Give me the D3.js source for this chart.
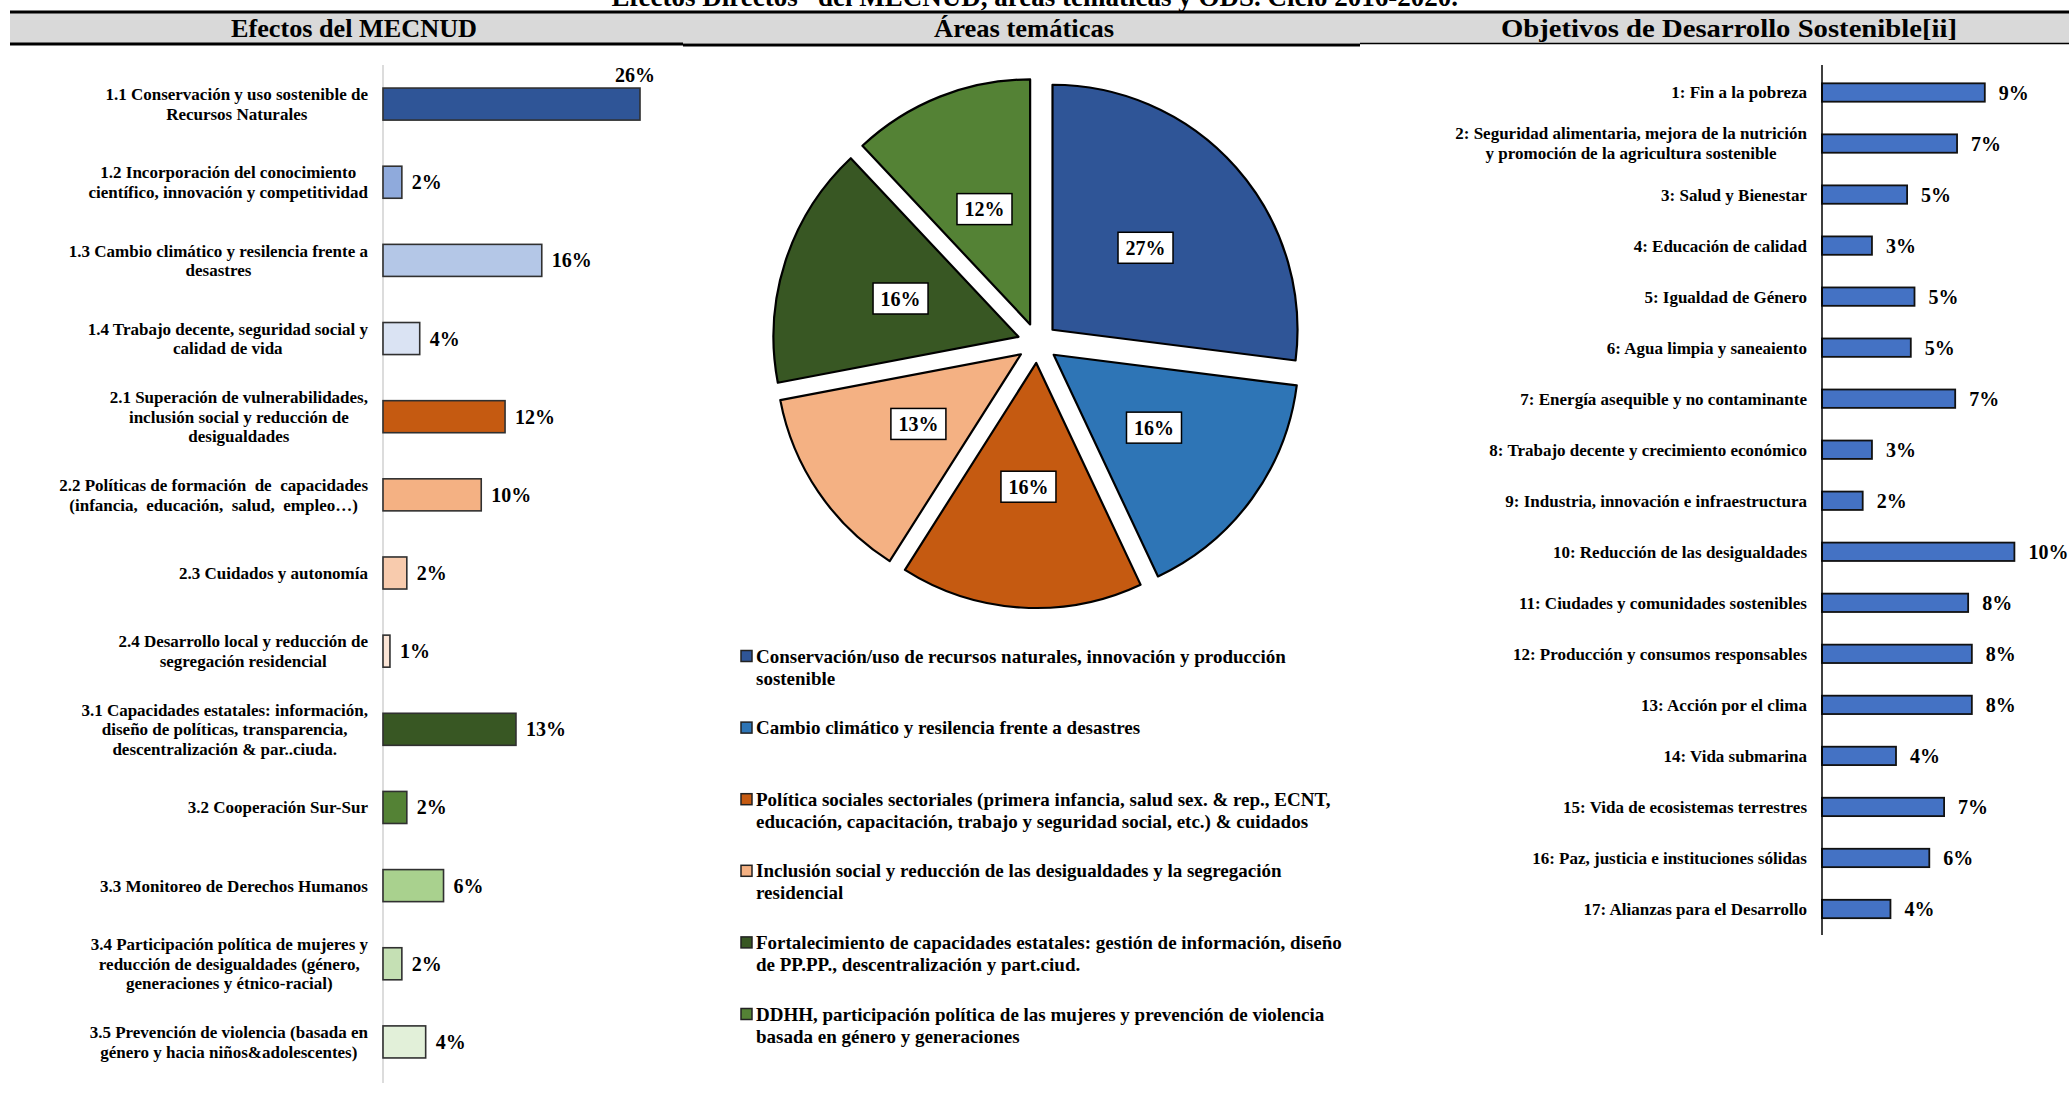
<!DOCTYPE html>
<html><head><meta charset="utf-8">
<script src="https://cdn.jsdelivr.net/npm/d3@7"></script>
<style>
body{margin:0;background:#fff;}
svg{display:block;}
text{font-family:"Liberation Serif","Times New Roman",serif;font-weight:bold;fill:#000;}
</style></head><body>
<svg id="c" width="2069" height="1107"></svg>
<script>
// ---------- DATA ----------
const title = "“Efectos Directos” del MECNUD, áreas temáticas y ODS. Ciclo 2016-2020.";
const headers = ["Efectos del MECNUD", "Áreas temáticas", "Objetivos de Desarrollo Sostenible[ii]"];

const efectosLabels = [
  ["1.1 Conservación y uso sostenible de", "Recursos Naturales"],
  ["1.2 Incorporación del conocimiento", "científico, innovación y competitividad"],
  ["1.3 Cambio climático y resilencia frente a", "desastres"],
  ["1.4 Trabajo decente, seguridad social y", "calidad de vida"],
  ["2.1 Superación de vulnerabilidades,", "inclusión social y reducción de", "desigualdades"],
  ["2.2 Políticas de formación  de  capacidades", "(infancia,  educación,  salud,  empleo…)"],
  ["2.3 Cuidados y autonomía"],
  ["2.4 Desarrollo local y reducción de", "segregación residencial"],
  ["3.1 Capacidades estatales: información,", "diseño de políticas, transparencia,", "descentralización & par..ciuda."],
  ["3.2 Cooperación Sur-Sur"],
  ["3.3 Monitoreo de Derechos Humanos"],
  ["3.4 Participación política de mujeres y", "reducción de desigualdades (género,", "generaciones y étnico-racial)"],
  ["3.5 Prevención de violencia (basada en", "género y hacia niños&adolescentes)"]
];
const efectosValues = [25.9, 1.9, 16.0, 3.7, 12.3, 9.9, 2.4, 0.7, 13.4, 2.4, 6.1, 1.9, 4.3];

const areasLabels = [
  ["Conservación/uso de recursos naturales, innovación y producción", "sostenible"],
  ["Cambio climático y resilencia frente a desastres"],
  ["Política sociales sectoriales (primera infancia, salud sex. & rep., ECNT,", "educación, capacitación, trabajo y seguridad social, etc.) & cuidados"],
  ["Inclusión social y reducción de las desigualdades y la segregación", "residencial"],
  ["Fortalecimiento de capacidades estatales: gestión de información, diseño", "de PP.PP., descentralización y part.ciud."],
  ["DDHH, participación política de las mujeres y prevención de violencia", "basada en género y generaciones"]
];
const areasValues = [27, 16, 16, 13, 16, 12];

const odsLabels = [
  ["1: Fin a la pobreza"],
  ["2: Seguridad alimentaria, mejora de la nutrición", "y promoción de la agricultura sostenible"],
  ["3: Salud y Bienestar"],
  ["4: Educación de calidad"],
  ["5: Igualdad de Género"],
  ["6: Agua limpia y saneaiento"],
  ["7: Energía asequible y no contaminante"],
  ["8: Trabajo decente y crecimiento económico"],
  ["9: Industria, innovación e infraestructura"],
  ["10: Reducción de las desigualdades"],
  ["11: Ciudades y comunidades sostenibles"],
  ["12: Producción y consumos responsables"],
  ["13: Acción por el clima"],
  ["14: Vida submarina"],
  ["15: Vida de ecosistemas terrestres"],
  ["16: Paz, justicia e instituciones sólidas"],
  ["17: Alianzas para el Desarrollo"]
];
const odsValues = [8.8, 7.3, 4.6, 2.7, 5.0, 4.8, 7.2, 2.7, 2.2, 10.4, 7.9, 8.1, 8.1, 4.0, 6.6, 5.8, 3.7];

// ---------- STYLES ----------
const efectosColors = ["#2f5597","#8faadc","#b4c7e7","#dae3f3","#c55a11","#f4b183","#f8cbad","#fbe5d6","#385723","#548235","#a9d18e","#c5e0b4","#e2f0d9"];
const areasColors = ["#2f5597","#2e75b6","#c55a11","#f4b183","#385723","#548235"];
const odsColor = "#4472c4";
const pct = v => Math.round(v) + "%";

const svg = d3.select("#c");

// ---------- HEADER ----------
svg.append("rect").attr("x",10).attr("y",13).attr("width",2059).attr("height",30).attr("fill","#d9d9d9");
svg.append("line").attr("x1",10).attr("x2",2069).attr("y1",12).attr("y2",12).attr("stroke","#000").attr("stroke-width",3);
svg.append("line").attr("x1",10).attr("x2",683).attr("y1",44).attr("y2",44).attr("stroke","#000").attr("stroke-width",3);
svg.append("line").attr("x1",683).attr("x2",1360).attr("y1",45).attr("y2",45).attr("stroke","#000").attr("stroke-width",3);
svg.append("line").attr("x1",1360).attr("x2",2069).attr("y1",43.5).attr("y2",43.5).attr("stroke","#000").attr("stroke-width",1.5);
svg.append("text").attr("x",1028).attr("y",6).attr("text-anchor","middle").attr("font-size",27).text(title);
const headerX = [354, 1024, 1729];
const headerW = [246, 180, 456];
svg.selectAll("text.hdr").data(headers).join("text").attr("class","hdr")
  .attr("x",(d,i)=>headerX[i]).attr("y",37).attr("text-anchor","middle").attr("font-size",26)
  .attr("textLength",(d,i)=>headerW[i]).attr("lengthAdjust","spacingAndGlyphs").text(d=>d);

// ---------- LEFT: EFECTOS ----------
const yE = d3.scaleBand().domain(d3.range(efectosValues.length)).range([65,1081]).paddingInner(0.59).paddingOuter(0.295);
const xE = d3.scaleLinear().domain([0,26]).range([383,641]);
svg.append("line").attr("x1",383).attr("x2",383).attr("y1",65).attr("y2",1083).attr("stroke","#d0d0d0").attr("stroke-width",1.5);
svg.selectAll("rect.ef").data(efectosValues).join("rect").attr("class","ef")
  .attr("x",xE(0)).attr("y",(d,i)=>yE(i)).attr("width",d=>xE(d)-xE(0)).attr("height",yE.bandwidth())
  .attr("fill",(d,i)=>efectosColors[i]).attr("stroke","#303030").attr("stroke-width",1.6);
efectosValues.forEach((v,i)=>{
  const cy = yE(i)+yE.bandwidth()/2;
  const t = svg.append("text").attr("font-size",20).text(pct(v));
  const w = t.node().getComputedTextLength();
  if (xE(v)+10+w > 665) {
    t.attr("x",xE(v)+15).attr("y",yE(i)-6).attr("text-anchor","end");
  } else {
    t.attr("x",xE(v)+10).attr("y",cy).attr("dy","0.35em");
  }
});
efectosLabels.forEach((lines,i)=>{
  const cy = yE(i)+yE.bandwidth()/2;
  const t = svg.append("text").attr("font-size",17).attr("text-anchor","middle");
  const sp = lines.map((ln,j)=>t.append("tspan").attr("y",cy+(j-(lines.length-1)/2)*19.5).attr("dy","0.35em").style("white-space","pre").text(ln));
  let mw = 0; sp.forEach(s=>{mw=Math.max(mw,s.node().getComputedTextLength());});
  sp.forEach(s=>s.attr("x",368-mw/2));
});

// ---------- MIDDLE: PIE ----------
const cx = 1037.5, cy = 343, R = 245, explode = 20;
const pie = d3.pie().sort(null).value(d=>d)(areasValues);
const arc = d3.arc().innerRadius(0).outerRadius(R);
const gp = svg.append("g").attr("transform",`translate(${cx},${cy})`);
pie.forEach((p,i)=>{
  const m = (p.startAngle+p.endAngle)/2;
  const dx = Math.sin(m)*explode, dy = -Math.cos(m)*explode;
  gp.append("path").attr("d",arc(p)).attr("transform",`translate(${dx},${dy})`)
    .attr("fill",areasColors[i]).attr("stroke","#000").attr("stroke-width",2.2).attr("stroke-linejoin","round");
  const lx = Math.sin(m)*144, ly = -Math.cos(m)*144;
  gp.append("rect").attr("x",lx-27.5).attr("y",ly-15.5).attr("width",55).attr("height",31)
    .attr("fill","#fff").attr("stroke","#000").attr("stroke-width",1.5);
  gp.append("text").attr("x",lx).attr("y",ly).attr("dy","0.35em").attr("text-anchor","middle").attr("font-size",20).text(pct(p.data));
});
// legend
areasLabels.forEach((lines,i)=>{
  const y0 = 656 + i*71.6;
  svg.append("rect").attr("x",741).attr("y",y0-5.5).attr("width",11).attr("height",11)
    .attr("fill",areasColors[i]).attr("stroke","#222").attr("stroke-width",1.5);
  const t = svg.append("text").attr("font-size",19);
  lines.forEach((ln,j)=>t.append("tspan").attr("x",756).attr("y",y0+j*22).attr("dy","0.35em").text(ln));
});

// ---------- RIGHT: ODS ----------
const yO = d3.scaleBand().domain(d3.range(odsValues.length)).range([67,934.5]).paddingInner(0.64).paddingOuter(0.32);
const xO = d3.scaleLinear().domain([0,10]).range([1822,2007]);
svg.selectAll("rect.ods").data(odsValues).join("rect").attr("class","ods")
  .attr("x",xO(0)).attr("y",(d,i)=>yO(i)).attr("width",d=>xO(d)-xO(0)).attr("height",yO.bandwidth())
  .attr("fill",odsColor).attr("stroke","#111").attr("stroke-width",1.8);
svg.append("line").attr("x1",1822).attr("x2",1822).attr("y1",65).attr("y2",935).attr("stroke","#000").attr("stroke-width",1.5);
svg.selectAll("text.odsv").data(odsValues).join("text").attr("class","odsv")
  .attr("x",d=>xO(d)+14).attr("y",(d,i)=>yO(i)+yO.bandwidth()/2).attr("dy","0.35em").attr("font-size",20).text(d=>pct(d));
odsLabels.forEach((lines,i)=>{
  const c = yO(i)+yO.bandwidth()/2;
  const t = svg.append("text").attr("font-size",17).attr("text-anchor","middle");
  const sp = lines.map((ln,j)=>t.append("tspan").attr("y",c+(j-(lines.length-1)/2)*20).attr("dy","0.35em").text(ln));
  let mw = 0; sp.forEach(s=>{mw=Math.max(mw,s.node().getComputedTextLength());});
  sp.forEach(s=>s.attr("x",1807-mw/2));
});
</script>
</body></html>
